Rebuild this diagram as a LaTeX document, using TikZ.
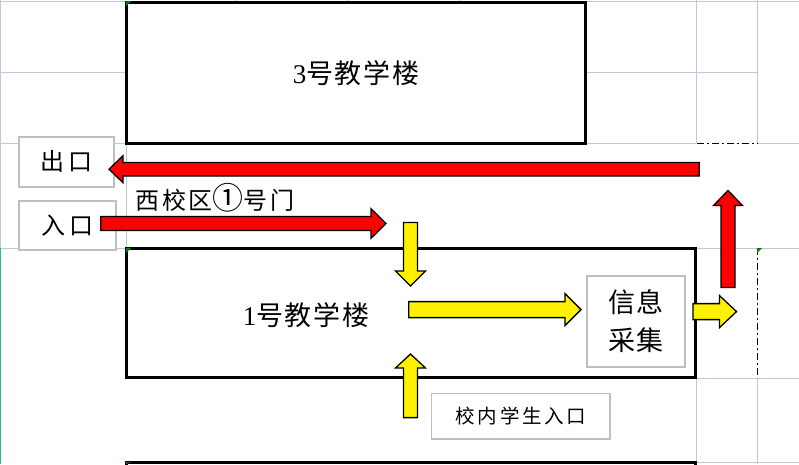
\documentclass[tikz,border=0pt]{standalone}
\usepackage{fontspec}
\setmainfont{Liberation Serif}
\newfontfamily\cjk{Noto Sans CJK SC}
\usetikzlibrary{calc}

\definecolor{gridgray}{RGB}{192,200,216}
\definecolor{tagborder}{RGB}{191,191,191}
\definecolor{cellgreen}{RGB}{0,128,0}
\definecolor{sheetgreen}{RGB}{40,190,130}

\begin{document}
\begin{tikzpicture}[
    x=1pt, y=-1pt,
    gridline/.style={draw=gridgray, line width=1pt},
    building/.style={draw=black, line width=3pt, fill=white},
    tag/.style={draw=tagborder, line width=1.8pt, fill=white, inner sep=0pt, align=center},
    bigtext/.style={font={\cjk\fontsize{27}{32}\selectfont\addfontfeature{LetterSpace=6}}},
    tagtext/.style={font={\cjk\fontsize{24}{28}\selectfont\addfontfeature{LetterSpace=20}}},
    smalltext/.style={font={\cjk\fontsize{19.5}{24}\selectfont\addfontfeature{LetterSpace=13}}},
    shaft/.store in=\shafthw, headw/.store in=\headhw, headl/.store in=\headlen,
    blockarrow/.style={draw=black, line width=1.3pt, shaft=7pt, headw=14.5pt, headl=15pt,
      to path={let \p1=(\tikztostart), \p2=(\tikztotarget), \p3=($(\p2)!\headlen!(\p1)$) in
        ($(\p1)!\shafthw!90:(\p2)$) -- ($(\p3)!\shafthw!90:(\p2)$) -- ($(\p3)!\headhw!90:(\p2)$)
        -- (\p2) -- ($(\p3)!\headhw!-90:(\p2)$) -- ($(\p3)!\shafthw!-90:(\p2)$)
        -- ($(\p1)!\shafthw!-90:(\p2)$) -- cycle}},
    redarrow/.style={blockarrow, fill=red},
    yellowarrow/.style={blockarrow, fill=yellow},
    dashdot/.style={draw=black, line width=1pt, dash pattern=on 7pt off 3pt on 2pt off 3pt},
    cellmark/.style={fill=cellgreen}
]
\useasboundingbox (0,0) rectangle (799,464);

% Sheet grid
\draw[gridline] (0,1) -- (799,1);
\draw[gridline] (0.5,0) -- (0.5,248);
\draw[gridline] (0,72) -- (126,72) (586,72) -- (757,72);
\draw[gridline] (0,143) -- (126,143) (586,143) -- (696,143) (757,143) -- (799,143);
\draw[gridline] (0,248) -- (126,248) (696,248) -- (799,248);
\draw[gridline] (696,378) -- (799,378) (696,462) -- (799,462);
\draw[gridline] (126.5,143) -- (126.5,248);
\foreach \x in {696.5,757.5}
  \draw[gridline] (\x,0) -- (\x,143) (\x,378) -- (\x,464);
\foreach \x in {236,348,460}
  \draw[gridline] (\x,0) -- (\x,3);
\draw[draw=sheetgreen, line width=1.5pt] (0.7,248) -- (0.7,464);

% Buildings
\node[building, bigtext, minimum width=459pt, minimum height=141pt] (bldg3) at (356,73) {\textrm{3}号教学楼};
\node[building, minimum width=569pt, minimum height=129pt] (bldg1) at (411,313.3) {};
\node[bigtext] (bldg1label) at (306,315) {\textrm{1}号教学楼};
\node[building, minimum width=569pt, minimum height=60pt] (bldg2) at (411,492.5) {};

% Dash-dot border
\draw[dashdot] (696.5,143) -- (757.5,143);
\draw[dashdot] (757.5,248) -- (757.5,378);

% Labels
\node[tag, tagtext, minimum width=95.5pt, minimum height=50pt] (exit) at (66.4,161.7) {出口};
\node[tag, tagtext, minimum width=97pt, minimum height=49pt] (enter) at (67.6,225.3) {入口};
\node[font={\cjk\fontsize{24}{28}\selectfont\addfontfeature{LetterSpace=12}}] (gate) at (215,197.5)
  {西校区{\fontsize{31}{28}\selectfont ①}号门};
\node[tag, font={\cjk\fontsize{27}{38}\selectfont\addfontfeature{LetterSpace=4}}, minimum width=98pt, minimum height=91pt] (info) at (635.7,321.3) {信息\\采集};
\node[tag, smalltext, minimum width=178.5pt, minimum height=45.5pt] (student) at (520.8,416.3) {校内学生入口};

% Cell marks
\fill[cellmark] (126,1) -- (131,1) -- (126,6) -- cycle;
\fill[cellmark] (126,248) -- (131,248) -- (126,253) -- cycle;
\fill[cellmark] (126,462) -- (131,462) -- (126,464) -- cycle;
\fill[cellmark] (757,248) -- (762,248) -- (757,253) -- cycle;

% Arrows
\coordinate (exitTail) at (699.3,169.2);
\coordinate (exitTip) at (109,169.2);
\coordinate (enterTail) at (100.7,223.5);
\coordinate (enterTip) at (386,223.5);
\coordinate (outTail) at (728,287.5);
\coordinate (outTip) at (728,190.5);
\coordinate (downTail) at (410.5,222.4);
\coordinate (downTip) at (410.5,286);
\coordinate (upTail) at (410.5,417.6);
\coordinate (upTip) at (410.5,354);
\coordinate (infoTail) at (408.7,309.6);
\coordinate (infoTip) at (581,309.6);
\coordinate (leaveTail) at (693,311.6);
\coordinate (leaveTip) at (736.5,311.6);

\draw[redarrow, shaft=6.8pt, headw=13.5pt, headl=14pt] (exitTail) to (exitTip);
\draw[redarrow, headw=14.8pt] (enterTail) to (enterTip);
\draw[redarrow] (outTail) to (outTip);
\draw[yellowarrow, headw=15pt] (downTail) to (downTip);
\draw[yellowarrow, headw=15pt, headl=14pt] (upTail) to (upTip);
\draw[yellowarrow, shaft=8pt, headw=16pt, headl=16pt] (infoTail) to (infoTip);
\draw[yellowarrow, shaft=8pt, headw=16pt, headl=17pt] (leaveTail) to (leaveTip);

\end{tikzpicture}
\end{document}
